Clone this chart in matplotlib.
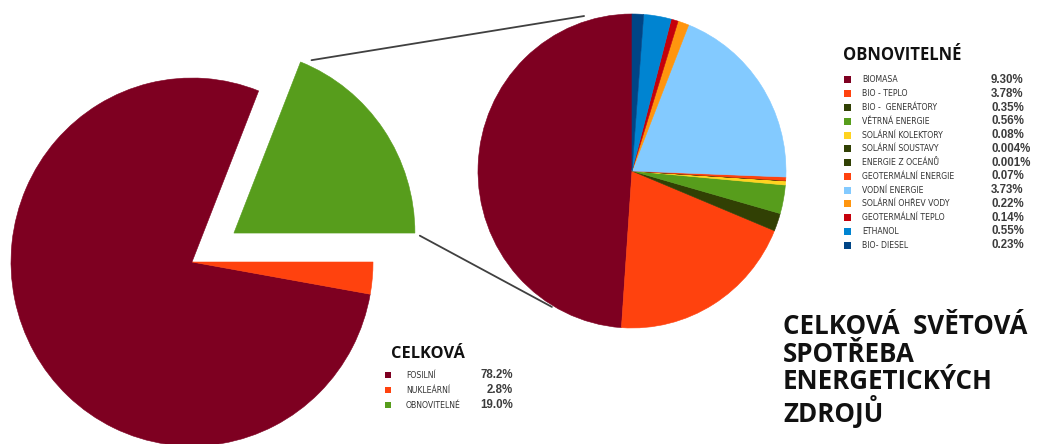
import matplotlib
matplotlib.use("Agg")
import matplotlib.pyplot as plt
from matplotlib.patches import Rectangle, ConnectionPatch
import numpy as np

# ---- data -------------------------------------------------------------
total_labels = ["FOSILNÍ", "NUKLEÁRNÍ", "OBNOVITELNÉ"]
total_values = [78.2, 2.8, 19.0]
total_value_text = ["78.2%", "2.8%", "19.0%"]
total_colors = ["#7E0021", "#FF420E", "#579D1C"]

renew_labels = ["BIOMASA", "BIO - TEPLO", "BIO -  GENERÁTORY", "VĚTRNÁ ENERGIE",
                "SOLÁRNÍ KOLEKTORY", "SOLÁRNÍ SOUSTAVY", "ENERGIE Z OCEÁNŮ",
                "GEOTERMÁLNÍ ENERGIE", "VODNÍ ENERGIE", "SOLÁRNÍ OHŘEV VODY",
                "GEOTERMÁLNÍ TEPLO", "ETHANOL", "BIO- DIESEL"]
renew_values = [9.30, 3.78, 0.35, 0.56, 0.08, 0.004, 0.001, 0.07, 3.73,
                0.22, 0.14, 0.55, 0.23]
renew_value_text = ["9.30%", "3.78%", "0.35%", "0.56%", "0.08%", "0.004%",
                    "0.001%", "0.07%", "3.73%", "0.22%", "0.14%", "0.55%",
                    "0.23%"]
renew_colors = ["#7E0021", "#FF420E", "#314004", "#579D1C", "#FFD320",
                "#314004", "#314004", "#FF420E", "#83CAFF", "#FF950E",
                "#C5000B", "#0084D1", "#004586"]

title_lines = ["CELKOVÁ  SVĚTOVÁ", "SPOTŘEBA", "ENERGETICKÝCH", "ZDROJŮ"]

# ---- figure -----------------------------------------------------------
W, H = 1042, 444
fig = plt.figure(figsize=(W / 100, H / 100), dpi=100)
fig.patch.set_facecolor("white")


def pie_axes(cx, cy, rx, ry):
    """Axes whose [-1, 1] box spans the given pixel ellipse."""
    ax = fig.add_axes([(cx - rx) / W, (H - cy - ry) / H, 2 * rx / W, 2 * ry / H])
    ax.set_axis_off()
    return ax


def fill_edges(wedges):
    for w in wedges:
        w.set_edgecolor(w.get_facecolor())
        w.set_linewidth(0.4)
        w.set_clip_on(False)


# overall consumption pie with the renewable share pulled out
ax_l = pie_axes(192, 262, 181, 184)
start = 360 * total_values[2] / sum(total_values)
wl, _ = ax_l.pie(total_values, colors=total_colors, startangle=start,
                 counterclock=True, explode=[0, 0, 0.28], radius=1)
fill_edges(wl)
ax_l.set_xlim(-1, 1)
ax_l.set_ylim(-1, 1)
ax_l.set_aspect("auto")

# breakdown of renewables
ax_r = pie_axes(632, 171, 154, 157)
wr, _ = ax_r.pie(renew_values, colors=renew_colors, startangle=90,
                 counterclock=True, radius=1)
fill_edges(wr)
ax_r.set_xlim(-1, 1)
ax_r.set_ylim(-1, 1)
ax_r.set_aspect("auto")

# connector lines from the pulled-out wedge to the breakdown pie
g = wl[2]
gcx, gcy = g.center
t1, t2 = np.deg2rad(g.theta1), np.deg2rad(g.theta2)
top_corner = (gcx + np.cos(t2), gcy + np.sin(t2))
right_corner = (gcx + np.cos(t1), gcy + np.sin(t1))
for corner, ang, rr, shr in [(top_corner, 107.5, 1.035, 8), (right_corner, 239, 1.01, 4)]:
    a = np.deg2rad(ang)
    con = ConnectionPatch(xyA=corner, coordsA=ax_l.transData,
                          xyB=(rr * np.cos(a), rr * np.sin(a)), coordsB=ax_r.transData,
                          color="#404040", lw=1.3, shrinkA=shr, shrinkB=0)
    fig.add_artist(con)

# ---- legends and title (pixel-positioned overlay) ----------------------
ov = fig.add_axes([0, 0, 1, 1])
ov.set_xlim(0, W)
ov.set_ylim(H, 0)
ov.set_axis_off()

title_font = dict(family="Open Sans", weight="bold", color="#111111")
label_font = dict(family="DejaVu Sans", size=5.6, color="#333333")
value_font = dict(family="Liberation Sans", weight="bold", size=8.3, color="#3c3c3c")

# renewables legend
ov.text(843, 60, "OBNOVITELNÉ", fontsize=12, va="baseline", ha="left", **title_font)
for i, (lab, txt, col) in enumerate(zip(renew_labels, renew_value_text, renew_colors)):
    y = 80 + i * 13.75
    ov.add_patch(Rectangle((847 - 3.5, y - 3.5), 7, 7, facecolor=col, edgecolor="none"))
    ov.text(862, y, lab, ha="left", va="center", **label_font)
    ov.text(991, y, txt, ha="left", va="center", **value_font)

# totals legend
ov.text(391, 358, "CELKOVÁ", fontsize=11.8, va="baseline", ha="left", **title_font)
for i, (lab, txt, col) in enumerate(zip(total_labels, total_value_text, total_colors)):
    y = 375 + i * 15
    ov.add_patch(Rectangle((388 - 3, y - 3), 6, 6, facecolor=col, edgecolor="none"))
    ov.text(406, y, lab, ha="left", va="center", **label_font)
    ov.text(513, y, txt, ha="right", va="center", **value_font)

# chart title as one multi-line block (baseline of the last line given)
ov.text(783, 422, "\n".join(title_lines), fontsize=18.6, va="baseline",
        ha="left", linespacing=1.01, **title_font)

fig.savefig("out.png", dpi=100, facecolor="white")
